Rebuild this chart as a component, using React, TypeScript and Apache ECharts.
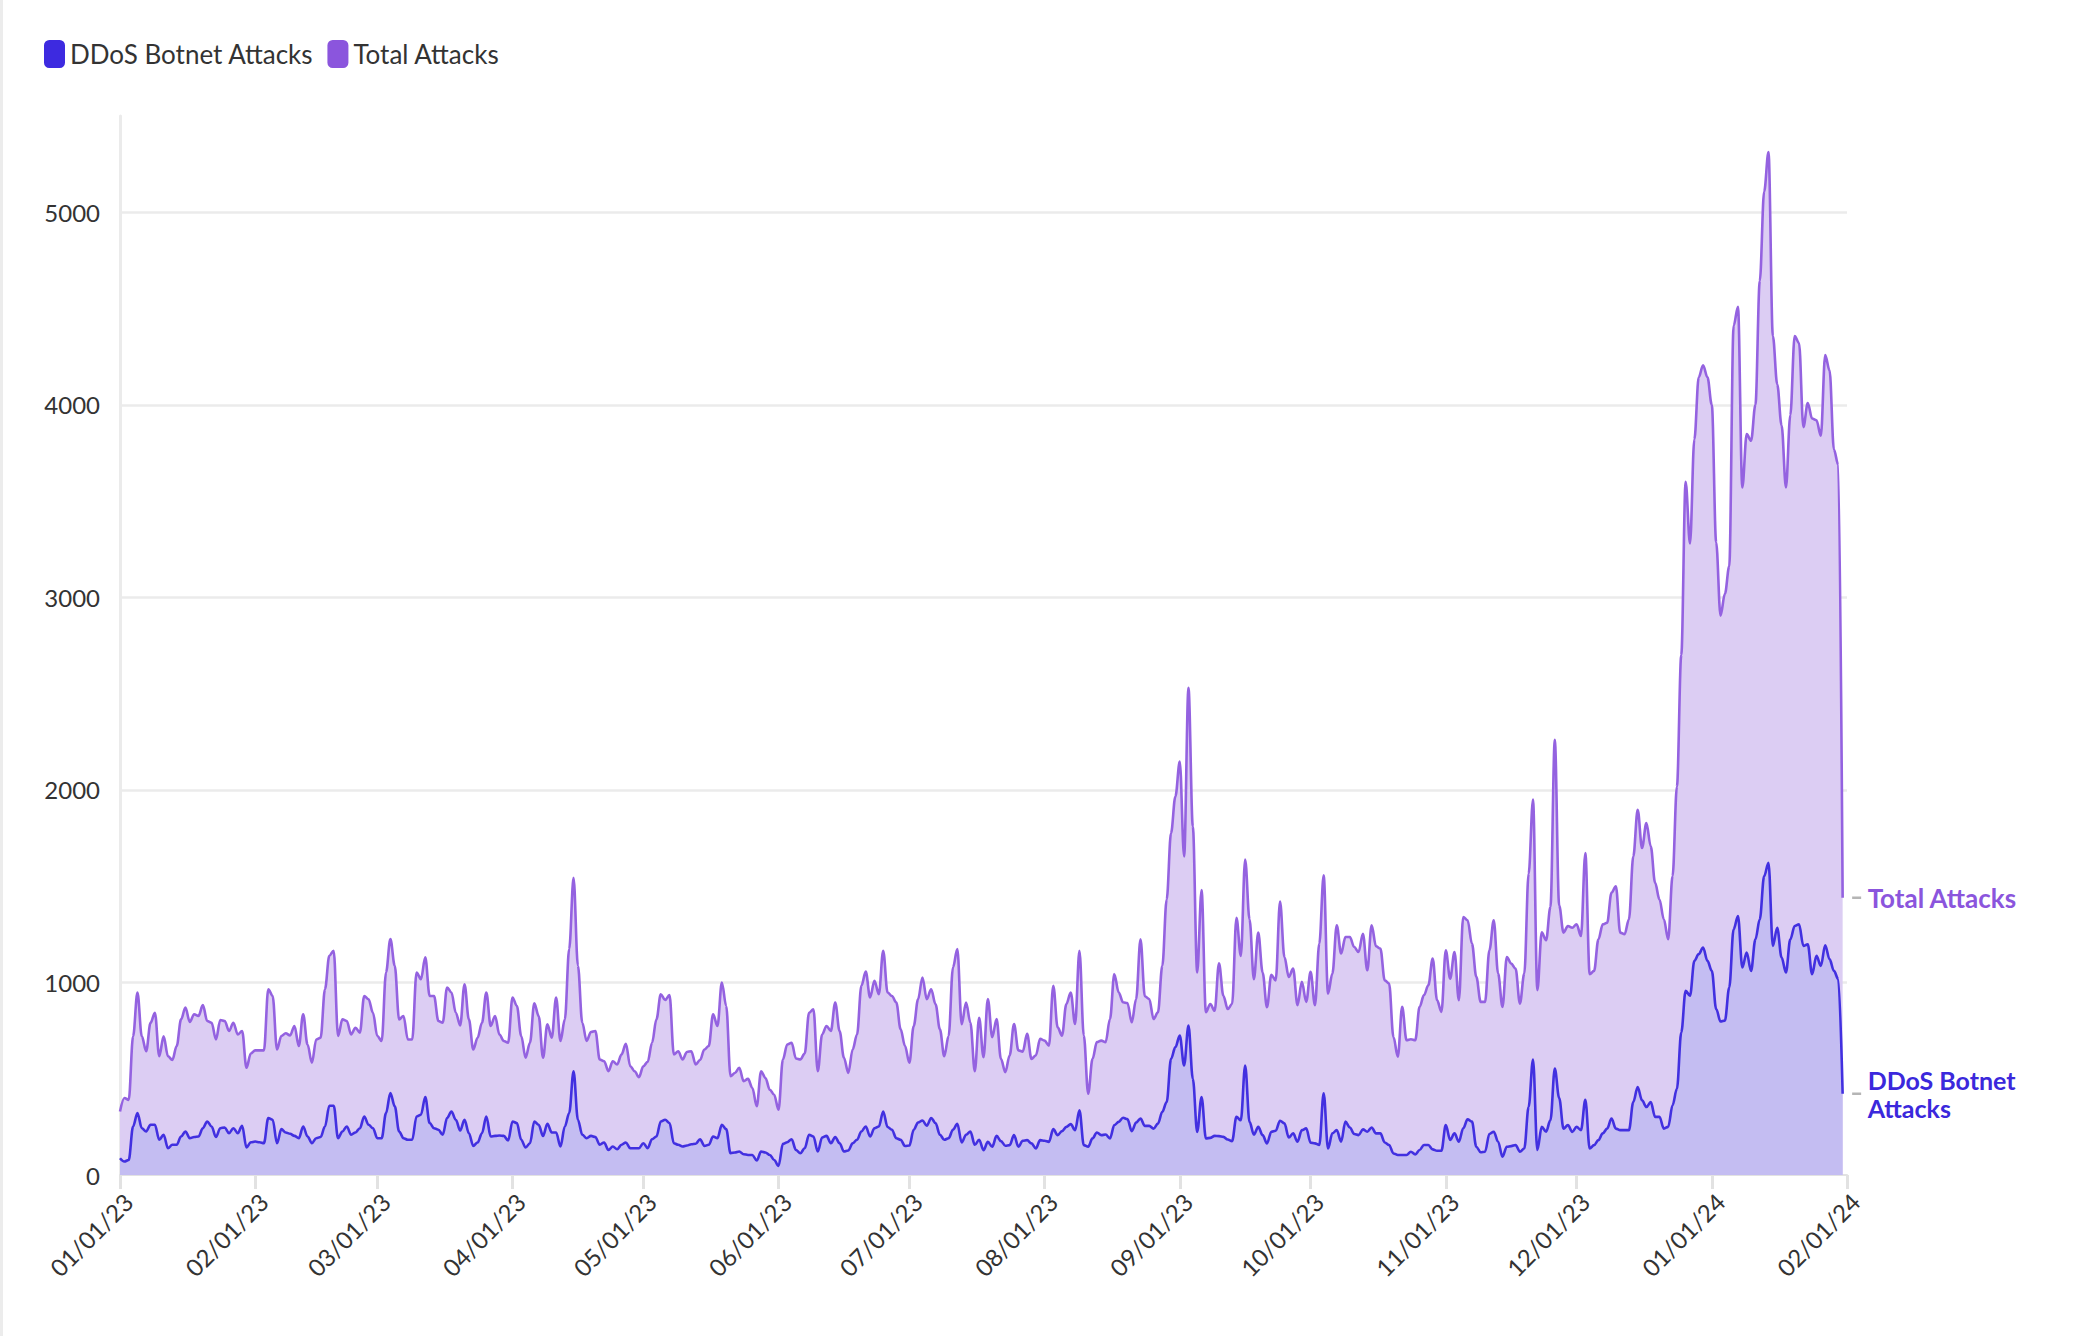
import React, { useEffect, useRef } from "react";
import * as echarts from "echarts";

// First day of the daily series (local date) and the end of the x axis.
const startDate = [2023, 0, 1];
const axisEnd = [2024, 1, 1];

const seriesNames = ["DDoS Botnet Attacks", "Total Attacks"];

// Daily DDoS botnet attacks, 01/01/23 .. 01/31/24 (one row per month)
const ddosAttacks = [
  87, 70, 78, 252, 322, 243, 226, 261, 261, 183, 209, 139, 157, 157, 200, 226, 191, 197, 200, 243, 278, 252, 197, 243, 247, 217, 243, 217, 256, 143, 170,
  174, 170, 165, 296, 287, 165, 238, 221, 214, 203, 191, 252, 200, 165, 191, 197, 252, 360, 360, 191, 226, 252, 209, 221, 243, 304, 261, 243,
  191, 191, 322, 426, 357, 226, 191, 183, 183, 304, 313, 405, 270, 243, 235, 209, 296, 330, 287, 231, 287, 217, 151, 169, 217, 304, 200, 203, 205, 203, 179,
  278, 270, 183, 143, 165, 278, 261, 203, 266, 221, 221, 148, 252, 322, 539, 287, 209, 191, 203, 197, 157, 169, 130, 148, 134, 157, 169, 139, 139, 139,
  165, 139, 186, 200, 278, 287, 270, 165, 157, 148, 153, 160, 162, 186, 151, 157, 200, 191, 261, 238, 113, 117, 122, 108, 104, 104, 75, 122, 117, 104, 78,
  47, 162, 170, 186, 130, 113, 139, 209, 200, 122, 195, 203, 165, 197, 165, 122, 127, 165, 183, 226, 252, 200, 243, 252, 330, 249, 235, 191, 183, 151,
  153, 235, 273, 283, 256, 296, 270, 209, 183, 191, 235, 266, 169, 209, 226, 157, 183, 129, 172, 147, 203, 176, 152, 155, 207, 147, 178, 181, 164, 138, 181,
  178, 172, 238, 207, 228, 250, 264, 233, 336, 155, 147, 190, 221, 207, 210, 190, 259, 276, 297, 290, 228, 272, 293, 255, 255, 241, 267, 328, 379, 603, 664,
  724, 569, 776, 500, 224, 405, 190, 193, 203, 202, 198, 184, 176, 302, 284, 569, 276, 210, 250, 207, 164, 225, 230, 282, 268, 195, 216, 173, 233, 242,
  168, 164, 156, 424, 138, 216, 233, 173, 277, 247, 213, 207, 237, 225, 247, 216, 216, 169, 156, 112, 104, 104, 104, 121, 107, 130, 156, 156, 133, 126, 126,
  259, 182, 216, 173, 242, 289, 277, 147, 118, 121, 213, 225, 173, 95, 147, 150, 156, 121, 138, 354, 600, 130, 250, 225, 285, 553, 400, 241, 259, 224,
  250, 233, 390, 138, 155, 181, 216, 241, 293, 241, 233, 233, 233, 379, 457, 388, 353, 379, 302, 302, 241, 250, 362, 448, 741, 957, 931, 1112, 1147, 1181, 1112,
  1060, 862, 797, 802, 974, 1276, 1345, 1078, 1155, 1060, 1224, 1328, 1552, 1621, 1190, 1284, 1129, 1052, 1224, 1293, 1302, 1190, 1198, 1043, 1138, 1086, 1193, 1121, 1060, 1017, 422,
];

// Daily total attacks, 01/01/23 .. 01/31/24 (one row per month)
const totalAttacks = [
  330, 400, 390, 720, 948, 720, 643, 790, 843, 617, 720, 617, 597, 670, 808, 870, 795, 835, 826, 882, 800, 791, 704, 805, 800, 748, 791, 730, 748, 557, 631,
  647, 647, 647, 965, 930, 652, 722, 736, 725, 774, 670, 835, 678, 583, 704, 713, 965, 1139, 1165, 722, 808, 800, 730, 765, 739, 930, 913, 843,
  722, 696, 1052, 1226, 1087, 808, 826, 704, 704, 1052, 1017, 1130, 930, 930, 800, 791, 974, 948, 843, 777, 991, 808, 652, 713, 791, 948, 774, 826, 730, 696, 687,
  922, 878, 722, 609, 687, 892, 826, 609, 783, 713, 922, 696, 808, 1174, 1543, 1087, 791, 696, 743, 748, 600, 591, 539, 591, 574, 626, 682, 565, 539, 508,
  565, 588, 687, 808, 939, 909, 934, 626, 643, 600, 639, 643, 574, 597, 652, 670, 835, 774, 1000, 878, 513, 530, 557, 487, 499, 452, 357, 539, 504, 443, 417,
  339, 600, 678, 687, 605, 600, 631, 843, 861, 539, 730, 774, 748, 896, 748, 609, 530, 652, 730, 983, 1056, 922, 1009, 939, 1165, 948, 930, 896, 757, 670,
  583, 774, 913, 1026, 913, 965, 887, 757, 617, 722, 1078, 1174, 783, 896, 791, 539, 817, 612, 914, 716, 810, 603, 534, 621, 784, 647, 641, 733, 603, 621, 707,
  698, 672, 983, 767, 724, 888, 948, 784, 1164, 724, 422, 603, 690, 698, 690, 810, 1043, 948, 897, 893, 793, 914, 1224, 928, 914, 810, 845, 1086, 1431, 1776, 1966,
  2147, 1655, 2530, 1810, 1052, 1480, 845, 888, 853, 1100, 931, 862, 888, 1336, 1138, 1638, 1328, 1017, 1259, 1052, 871, 1040, 1011, 1420, 1132, 1029, 1072, 882, 1003, 899,
  1055, 882, 1202, 1556, 942, 1046, 1297, 1150, 1236, 1236, 1184, 1158, 1253, 1063, 1297, 1188, 1176, 1011, 994, 717, 614, 873, 700, 705, 700, 873, 934, 985, 1124, 908, 847,
  1167, 1020, 1158, 908, 1340, 1323, 1202, 1029, 899, 899, 1167, 1323, 1046, 873, 1132, 1098, 1072, 890, 1046, 1565, 1950, 960, 1260, 1219, 1392, 2260, 1400, 1259, 1293, 1284,
  1302, 1241, 1672, 1043, 1060, 1224, 1302, 1310, 1466, 1500, 1259, 1250, 1328, 1655, 1897, 1698, 1828, 1707, 1517, 1431, 1328, 1224, 1552, 2017, 2700, 3600, 3280, 3821, 4143, 4205, 4143,
  4000, 3286, 2905, 3018, 3161, 4411, 4509, 3571, 3848, 3813, 4000, 4643, 5107, 5313, 4357, 4107, 3893, 3571, 3946, 4357, 4321, 3884, 4009, 3929, 3920, 3839, 4259, 4179, 3768, 3688, 1440,
];

const yMax = 5500;
const yStep = 1000;

const FONT = 'Lato, "Source Sans Pro", "Noto Sans", sans-serif';
const DAY = 86400000;

const dayTime = (i: number) =>
  new Date(startDate[0], startDate[1], startDate[2] + i).getTime();

const pad = (n: number) => (n < 10 ? "0" + n : "" + n);
const fmtDate = (v: number) => {
  const d = new Date(v);
  return pad(d.getMonth() + 1) + "/" + pad(d.getDate()) + "/" + pad(d.getFullYear() % 100);
};

export default function App() {
  const ref = useRef<HTMLDivElement>(null);

  useEffect(() => {
    document.body.style.margin = "0";
    if (!ref.current) return;
    const chart = echarts.init(ref.current, undefined, { renderer: "svg" });

    const ddosData = ddosAttacks.map((v, i) => [dayTime(i), v]);
    const totalData = totalAttacks.map((v, i) => [dayTime(i), v]);
    const lastDdos = ddosData[ddosData.length - 1];
    const lastTotal = totalData[totalData.length - 1];

    const dash = (pt: number[]) => ({
      silent: true,
      symbol: "rect",
      symbolSize: [9, 2.5],
      symbolOffset: [14, 0],
      itemStyle: { color: "#b5b5b5" },
      label: { show: false },
      data: [{ coord: pt }],
    });

    chart.setOption({
      animation: false,
      backgroundColor: "#ffffff",
      textStyle: { fontFamily: FONT },
      graphic: [
        {
          type: "rect",
          left: 0,
          top: 0,
          shape: { width: 3, height: 1336 },
          style: { fill: "#ececec" },
          silent: true,
        },
      ],
      legend: {
        data: seriesNames,
        left: 44,
        top: 40,
        padding: 0,
        itemWidth: 21,
        itemHeight: 28,
        itemGap: 14,
        icon: "roundRect",
        textStyle: { fontSize: 26, color: "#333333", fontFamily: FONT },
        selectedMode: false,
      },
      grid: { left: 120, right: 233, top: 116, bottom: 161, containLabel: false },
      xAxis: {
        type: "time",
        min: new Date(startDate[0], startDate[1], startDate[2]).getTime(),
        max: new Date(axisEnd[0], axisEnd[1], axisEnd[2]).getTime(),
        splitNumber: 13,
        minInterval: 28 * DAY,
        maxInterval: 31 * DAY,
        axisLine: { show: true, lineStyle: { color: "#e2e2e2", width: 2 } },
        axisTick: { show: true, length: 14, lineStyle: { color: "#e2e2e2", width: 3 } },
        axisLabel: {
          rotate: 45,
          fontSize: 24,
          color: "#333333",
          margin: 14,
          verticalAlign: "top",
          fontFamily: FONT,
          hideOverlap: false,
          showMinLabel: true,
          showMaxLabel: true,
          formatter: (v: number) => fmtDate(v),
        },
        splitLine: { show: false },
      },
      yAxis: {
        type: "value",
        min: 0,
        max: yMax,
        interval: yStep,
        axisLine: { show: true, lineStyle: { color: "#ebebeb", width: 3 } },
        axisTick: { show: false },
        axisLabel: {
          fontSize: 24,
          color: "#333333",
          margin: 20,
          fontFamily: FONT,
          showMaxLabel: false,
          formatter: (v: number) => String(v),
        },
        splitLine: {
          show: true,
          showMinLine: false,
          showMaxLine: false,
          lineStyle: { color: "#ebebeb", width: 2.5 },
        },
      },
      series: [
        {
          name: "Total Attacks",
          type: "line",
          data: totalData,
          smooth: 0.35,
          smoothMonotone: "x",
          symbol: "none",
          showSymbol: false,
          z: 2,
          itemStyle: { color: "#8b55dd" },
          lineStyle: { color: "#9462e0", width: 2.6 },
          areaStyle: { color: "#dccdf3", opacity: 1 },
          endLabel: {
            show: true,
            formatter: (p: any) => p.seriesName,
            color: "#8b55dd",
            fontSize: 26,
            fontWeight: "bold",
            fontFamily: FONT,
            distance: 25,
            verticalAlign: "middle",
          },
          markPoint: dash(lastTotal),
        },
        {
          name: "DDoS Botnet Attacks",
          type: "line",
          data: ddosData,
          smooth: 0.35,
          smoothMonotone: "x",
          symbol: "none",
          showSymbol: false,
          z: 3,
          itemStyle: { color: "#3d2ae0" },
          lineStyle: { color: "#4230e0", width: 2.6 },
          areaStyle: { color: "#c4bdf2", opacity: 1 },
          endLabel: {
            show: true,
            formatter: (p: any) => p.seriesName,
            color: "#3b28dc",
            fontSize: 25,
            fontWeight: "bold",
            fontFamily: FONT,
            distance: 25,
            width: 165,
            overflow: "break",
            lineHeight: 28,
            verticalAlign: "middle",
          },
          markPoint: dash(lastDdos),
        },
      ],
    });

    return () => chart.dispose();
  }, []);

  return <div ref={ref} style={{ width: 2080, height: 1336 }} />;
}
